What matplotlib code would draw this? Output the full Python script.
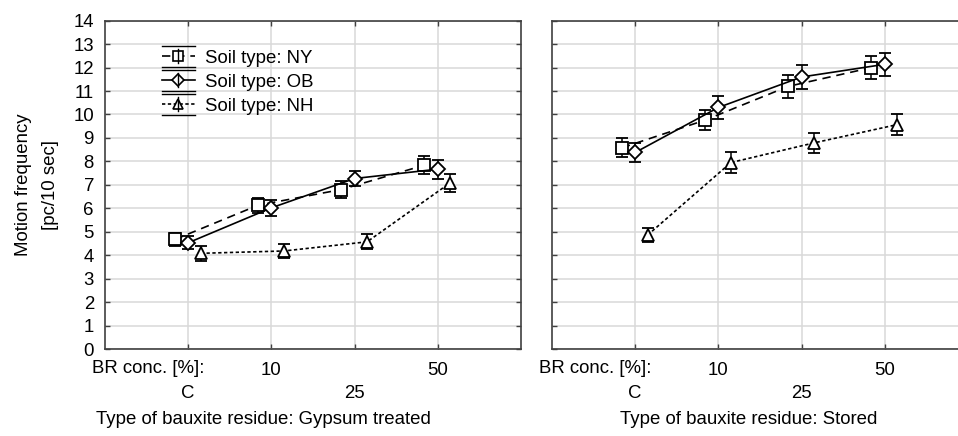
import numpy as np
import matplotlib
matplotlib.use("Agg")
import matplotlib.pyplot as plt
import matplotlib.transforms as mtransforms
from matplotlib.lines import Line2D
from matplotlib.legend_handler import HandlerLine2D

plt.rcParams['font.family'] = ['Liberation Sans', 'DejaVu Sans']
plt.rcParams['font.size'] = 13.4

# ---------------- data ----------------
categories = ['C', '10', '25', '50']
series_names = ['Soil type: NY', 'Soil type: OB', 'Soil type: NH']
panel_titles = ['Type of bauxite residue: Gypsum treated', 'Type of bauxite residue: Stored']

gyp_ny = [4.67, 6.13, 6.80, 7.84]
gyp_ny_err = [0.28, 0.32, 0.35, 0.37]
gyp_ob = [4.53, 6.02, 7.27, 7.67]
gyp_ob_err = [0.27, 0.33, 0.33, 0.40]
gyp_nh = [4.08, 4.18, 4.57, 7.09]
gyp_nh_err = [0.32, 0.30, 0.32, 0.38]

sto_ny = [8.58, 9.76, 11.20, 12.00]
sto_ny_err = [0.40, 0.43, 0.48, 0.50]
sto_ob = [8.38, 10.30, 11.60, 12.14]
sto_ob_err = [0.40, 0.48, 0.50, 0.48]
sto_nh = [4.86, 7.95, 8.79, 9.57]
sto_nh_err = [0.30, 0.43, 0.43, 0.44]

panels = [
    [(gyp_ny, gyp_ny_err), (gyp_ob, gyp_ob_err), (gyp_nh, gyp_nh_err)],
    [(sto_ny, sto_ny_err), (sto_ob, sto_ob_err), (sto_nh, sto_nh_err)],
]

# ---------------- styles ----------------
offsets = [-0.16, 0.0, 0.15]
markers = ['s', 'D', '^']
msizes = [8, 7, 8.5]
dashes = [(5, 3.5), None, (2, 1.5)]

W, H = 958, 436
fig = plt.figure(figsize=(W / 100, H / 100), dpi=100)

ax_left_px = [105, 552]
ax_w_px = 416
ax_top_px, ax_bot_px = 20.7, 349

grid_col = '#d9d9d9'
spine_col = '#404040'

x = np.arange(1, len(categories) + 1)
axes = []
for pi, series in enumerate(panels):
    ax = fig.add_axes([ax_left_px[pi] / W, (H - ax_bot_px) / H,
                       ax_w_px / W, (ax_bot_px - ax_top_px) / H])
    axes.append(ax)
    for si, (vals, errs) in enumerate(series):
        ls = '-' if dashes[si] is None else (0, dashes[si])
        ax.errorbar(x + offsets[si], vals, yerr=errs, color='black', lw=1.2,
                    ls=ls, marker=markers[si], ms=msizes[si], mfc='white',
                    mec='black', mew=1.3, capsize=4, elinewidth=1.1,
                    capthick=1.1, zorder=3)
    ax.set_xlim(0, 5)
    ax.set_ylim(0, 14)
    ax.set_yticks(np.arange(0, 15, 1))
    # staggered category labels: upper row on major ticks, lower row on minor ticks
    ax.set_xticks(x[1::2])
    ax.set_xticklabels(categories[1::2])
    ax.set_xticks(x[0::2], minor=True)
    ax.set_xticklabels(categories[0::2], minor=True)
    ax.grid(True, which='major', color=grid_col, lw=1.1, zorder=0)
    ax.grid(True, which='minor', axis='x', color=grid_col, lw=1.1, zorder=0)
    ax.set_axisbelow(True)
    ax.tick_params(which='both', direction='in', length=3.5, width=1.0, top=True,
                   right=True, color=spine_col)
    ax.tick_params(axis='x', which='major', pad=9)
    ax.tick_params(axis='x', which='minor', pad=26)
    ax.tick_params(axis='y', pad=8)
    for sp in ax.spines.values():
        sp.set_color(spine_col)
        sp.set_linewidth(1.2)
    if pi == 1:
        ax.tick_params(axis='y', labelleft=False)
    trans = mtransforms.blended_transform_factory(ax.transData, fig.transFigure)
    ax.text(1.2, (H - 368) / H, 'BR conc. [%]:', transform=trans, ha='right', va='center')

axes[0].set_ylabel('Motion frequency\n[pc/10 sec]', linespacing=1.8, labelpad=10)

fig.text(96 / W, (H - 424) / H, panel_titles[0], ha='left', va='baseline')
fig.text(620 / W, (H - 424) / H, panel_titles[1], ha='left', va='baseline')


class CapHandler(HandlerLine2D):
    def create_artists(self, legend, orig_handle, xdescent, ydescent, width,
                       height, fontsize, trans):
        arts = super().create_artists(legend, orig_handle, xdescent, ydescent,
                                      width, height, fontsize, trans)
        yc = height / 2 - ydescent
        d = 0.8 * height
        for yy in (yc - d, yc + d):
            arts.append(Line2D([-xdescent, -xdescent + width], [yy, yy],
                               color='black', lw=1.0, transform=trans))
        xc = -xdescent + width / 2
        arts.append(Line2D([xc, xc], [yc - 0.55 * height, yc + 0.55 * height],
                           color='black', lw=1.0, transform=trans))
        return arts


handles = []
for si in range(3):
    ls = '-' if dashes[si] is None else (0, dashes[si])
    handles.append(Line2D([], [], color='black', lw=1.2, ls=ls, marker=markers[si],
                          ms=msizes[si] * 0.85, mfc='white', mec='black', mew=1.2))
axes[0].legend(handles, series_names, loc='upper left',
               bbox_to_anchor=(0.137, 0.912), frameon=False, borderpad=0,
               borderaxespad=0, handlelength=1.75, handletextpad=0.55,
               labelspacing=0.38, handler_map={h: CapHandler() for h in handles})

fig.savefig('out.png', dpi=100)
